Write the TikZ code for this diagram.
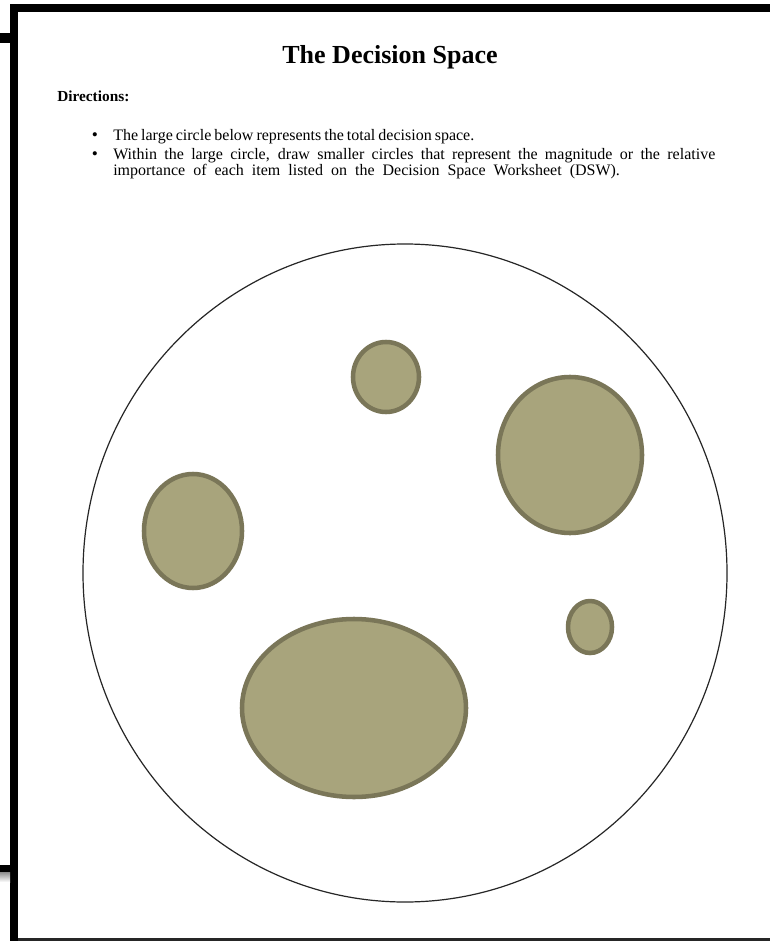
\documentclass[tikz,border=0pt]{standalone}
\usepackage{fontspec}
\setmainfont{Liberation Serif}
\definecolor{khaki}{RGB}{168,164,124}
\definecolor{khakiedge}{RGB}{122,118,88}
\begin{document}
\begin{tikzpicture}[x=0.75pt,y=-0.75pt,line join=round,line cap=round,
	blob/.style={fill=khaki,draw=khakiedge,line width=3.4pt},
	bodytext/.style={anchor=base west,inner sep=0pt,font=\fontsize{12}{14}\selectfont},
	dot/.style={anchor=base,inner sep=0pt,font=\fontsize{13}{15}\selectfont}]
	\useasboundingbox (0,0) rectangle (770,941);
	\fill[white] (0,0) rectangle (770,941);
	
	\fill (10,4) rectangle (770,12);
	\fill (10,4) rectangle (18,941);
	\fill (0,33) rectangle (10,43);
	\fill (0,865) rectangle (10,872);
	\shade[top color=black!45,bottom color=white] (0,872) rectangle (10,882);
	\fill[black!85] (18,938) rectangle (770,941);
	
	\path (390,64) node[anchor=base,inner sep=0pt,font=\fontsize{19.5}{22}\selectfont\bfseries] (title) {The Decision Space};
	\path (57,102) node[anchor=base west,inner sep=0pt,font=\fontsize{11.5}{13}\selectfont\bfseries] (directions) {Directions:};
	
	\path (95,141) node[dot] (dot1) {\textbullet};
	\path (113,141) node[bodytext] (item1) {\makebox[270.75pt][s]{The large circle below represents the total decision space.}};
	\path (95,160) node[dot] (dot2) {\textbullet};
	\path (113,160) node[bodytext] (item2) {\makebox[451.5pt][s]{Within the large circle, draw smaller circles that represent the magnitude or the relative}};
	\path (113,176) node[bodytext] (item2b) {\makebox[380pt][s]{importance of each item listed on the Decision Space Worksheet (DSW).}};
	
	\draw[black!85,line width=0.9pt] (405,573) ellipse [x radius=322,y radius=329];
	
	\draw[blob] (386,377) ellipse [x radius=33,y radius=35];
	\draw[blob] (570,455) ellipse [x radius=72,y radius=78];
	\draw[blob] (193,531) ellipse [x radius=49,y radius=57];
	\draw[blob] (590,627) ellipse [x radius=22,y radius=26];
	\draw[blob] (354,708) ellipse [x radius=112,y radius=89];
\end{tikzpicture}
\end{document}
